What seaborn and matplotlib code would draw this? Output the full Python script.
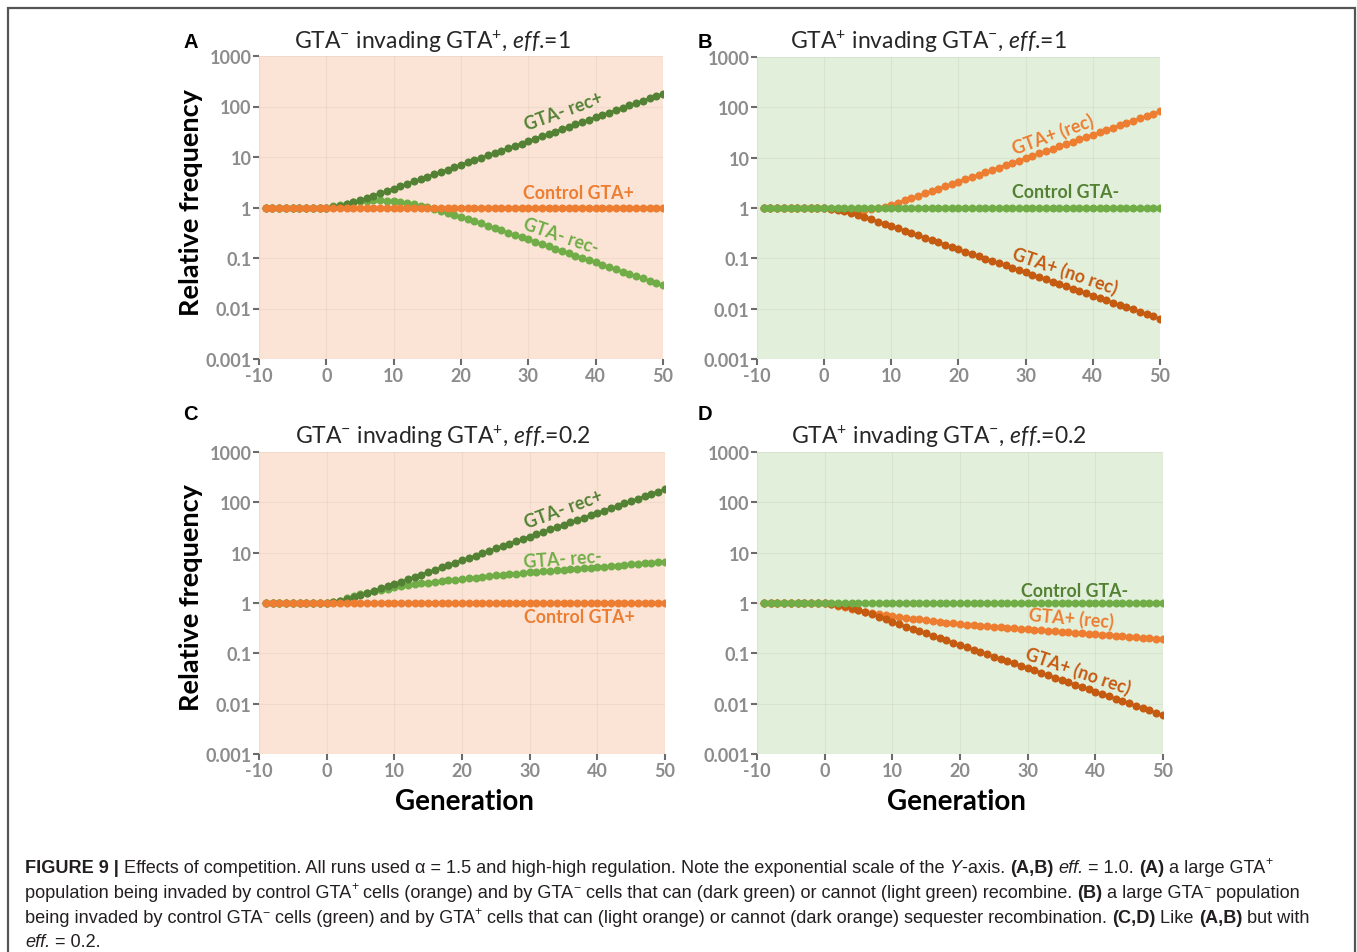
import matplotlib
matplotlib.use("Agg")
import matplotlib.pyplot as plt
import seaborn as sns
import pandas as pd
from matplotlib import font_manager as fm
from matplotlib.patches import Rectangle

# ---------------- data ----------------
generations = list(range(-9, 51))
x_ticks = [-10, 0, 10, 20, 30, 40, 50]
x_tick_labels = ["-10", "0", "10", "20", "30", "40", "50"]
y_ticks = [0.001, 0.01, 0.1, 1, 10, 100, 1000]
y_tick_labels = ["0.001", "0.01", "0.1", "1", "10", "100", "1000"]

control = [1.0, 1.0, 1.0, 1.0, 1.0, 1.0, 1.0, 1.0, 1.0, 1.0,
           1.0, 1.0, 1.0, 1.0, 1.0, 1.0, 1.0, 1.0, 1.0, 1.0,
           1.0, 1.0, 1.0, 1.0, 1.0, 1.0, 1.0, 1.0, 1.0, 1.0,
           1.0, 1.0, 1.0, 1.0, 1.0, 1.0, 1.0, 1.0, 1.0, 1.0,
           1.0, 1.0, 1.0, 1.0, 1.0, 1.0, 1.0, 1.0, 1.0, 1.0,
           1.0, 1.0, 1.0, 1.0, 1.0, 1.0, 1.0, 1.0, 1.0, 1.0]

a_rec_plus = [1.0, 1.0, 1.0, 1.0, 1.0, 1.0, 1.0, 1.0, 1.0, 1.0,
              1.02, 1.07, 1.15, 1.26, 1.38, 1.54, 1.71, 1.91, 2.13, 2.37,
              2.64, 2.94, 3.28, 3.66, 4.07, 4.54, 5.06, 5.64, 6.28, 7.00,
              7.80, 8.69, 9.68, 10.8, 12.0, 13.4, 14.9, 16.6, 18.5, 20.7,
              23.0, 25.6, 28.6, 31.8, 35.5, 39.5, 44.1, 49.1, 54.7, 61.0,
              67.9, 75.7, 84.3, 94.0, 105, 117, 130, 145, 161, 180]

a_rec_minus = [1.0, 1.0, 1.0, 1.0, 1.0, 1.0, 1.0, 1.0, 1.0, 1.0,
               1.05, 1.12, 1.20, 1.26, 1.32, 1.36, 1.38, 1.38, 1.36, 1.33,
               1.29, 1.23, 1.16, 1.08, 1.01, 0.933, 0.861, 0.794, 0.724, 0.661,
               0.596, 0.537, 0.483, 0.436, 0.392, 0.353, 0.318, 0.286, 0.258, 0.233,
               0.210, 0.189, 0.170, 0.153, 0.138, 0.124, 0.112, 0.101, 0.091, 0.0819,
               0.0738, 0.0665, 0.0598, 0.0540, 0.0486, 0.0438, 0.0394, 0.0356, 0.0320, 0.0288]

b_rec = [1.0, 1.0, 1.0, 1.0, 1.0, 1.0, 1.0, 1.0, 1.0, 1.0,
         0.97, 0.94, 0.92, 0.91, 0.91, 0.92, 0.95, 0.98, 1.04, 1.15,
         1.28, 1.42, 1.58, 1.76, 1.96, 2.18, 2.43, 2.70, 3.01, 3.35,
         3.73, 4.15, 4.62, 5.14, 5.72, 6.37, 7.09, 7.89, 8.78, 9.77,
         10.9, 12.1, 13.5, 15.0, 16.7, 18.6, 20.7, 23.0, 25.6, 28.5,
         31.7, 35.3, 39.3, 43.8, 48.7, 54.2, 60.3, 67.1, 74.7, 83.2]

b_no_rec = [1.0, 1.0, 1.0, 1.0, 1.0, 1.0, 1.0, 1.0, 1.0, 1.0,
            0.977, 0.933, 0.871, 0.813, 0.741, 0.676, 0.603, 0.537, 0.484, 0.437,
            0.393, 0.353, 0.318, 0.286, 0.257, 0.231, 0.208, 0.187, 0.168, 0.151,
            0.136, 0.122, 0.110, 0.0991, 0.0891, 0.0802, 0.0721, 0.0649, 0.0583, 0.0525,
            0.0472, 0.0425, 0.0382, 0.0344, 0.0309, 0.0278, 0.0250, 0.0225, 0.0202, 0.0182,
            0.0164, 0.0147, 0.0132, 0.0119, 0.0107, 0.00964, 0.00867, 0.00780, 0.00702, 0.00631]

c_rec_plus = [1.0, 1.0, 1.0, 1.0, 1.0, 1.0, 1.0, 1.0, 1.0, 1.0,
              1.03, 1.09, 1.18, 1.30, 1.45, 1.60, 1.77, 1.96, 2.17, 2.40,
              2.66, 2.96, 3.30, 3.68, 4.10, 4.57, 5.09, 5.68, 6.33, 7.05,
              7.86, 8.76, 9.76, 10.9, 12.1, 13.5, 15.1, 16.8, 18.7, 20.9,
              23.3, 26.0, 28.9, 32.2, 35.9, 40.0, 44.6, 49.7, 55.4, 61.7,
              68.8, 76.6, 85.4, 95.2, 106, 118, 132, 147, 164, 183]

c_rec_minus = [1.0, 1.0, 1.0, 1.0, 1.0, 1.0, 1.0, 1.0, 1.0, 1.0,
               1.05, 1.12, 1.23, 1.35, 1.48, 1.58, 1.70, 1.82, 1.93, 2.04,
               2.14, 2.24, 2.34, 2.45, 2.54, 2.63, 2.72, 2.82, 2.92, 3.02,
               3.12, 3.21, 3.31, 3.41, 3.52, 3.62, 3.73, 3.85, 3.95, 4.07,
               4.17, 4.27, 4.37, 4.47, 4.57, 4.68, 4.79, 4.90, 5.01, 5.13,
               5.26, 5.40, 5.53, 5.68, 5.82, 5.97, 6.12, 6.28, 6.44, 6.61]

d_rec = [1.0, 1.0, 1.0, 1.0, 1.0, 1.0, 1.0, 1.0, 1.0, 1.0,
         0.955, 0.891, 0.832, 0.776, 0.724, 0.676, 0.638, 0.603, 0.575, 0.550,
         0.528, 0.508, 0.490, 0.473, 0.457, 0.441, 0.425, 0.407, 0.394, 0.380,
         0.372, 0.363, 0.355, 0.347, 0.339, 0.331, 0.324, 0.316, 0.309, 0.302,
         0.295, 0.288, 0.282, 0.275, 0.269, 0.263, 0.257, 0.251, 0.245, 0.240,
         0.234, 0.229, 0.224, 0.219, 0.214, 0.209, 0.204, 0.200, 0.195, 0.191]

d_no_rec = [1.0, 1.0, 1.0, 1.0, 1.0, 1.0, 1.0, 1.0, 1.0, 1.0,
            0.97, 0.92, 0.86, 0.80, 0.73, 0.665, 0.595, 0.530, 0.475, 0.42,
            0.38, 0.34, 0.307, 0.276, 0.248, 0.223, 0.201, 0.181, 0.163, 0.147,
            0.132, 0.119, 0.107, 0.0960, 0.0865, 0.0778, 0.0700, 0.0630, 0.0567, 0.0510,
            0.0458, 0.0411, 0.0369, 0.0331, 0.0297, 0.0267, 0.0240, 0.0215, 0.0193, 0.0174,
            0.0156, 0.0140, 0.0126, 0.0113, 0.0101, 0.00910, 0.00817, 0.00733, 0.00658, 0.00590]

# ---------------- style ----------------
DARK_GREEN = "#548235"
LIGHT_GREEN = "#70AD47"
ORANGE = "#ED7D31"
DARK_ORANGE = "#C55A11"
PEACH_BG = "#FBE4D5"
GREEN_BG = "#E2EFDA"

sns.set_style("white")
avail = {f.name for f in fm.fontManager.ttflist}
MAIN = "Lato" if "Lato" in avail else "DejaVu Sans"
CAP = next((f for f in ["Liberation Sans Narrow", "DejaVu Sans Condensed", "Liberation Sans"] if f in avail), "DejaVu Sans")
plt.rcParams["font.family"] = [MAIN, "DejaVu Sans"]
plt.rcParams["mathtext.fontset"] = "custom"
plt.rcParams["mathtext.rm"] = MAIN
plt.rcParams["mathtext.it"] = MAIN + ":italic"
plt.rcParams["mathtext.bf"] = MAIN + ":bold"

W, H = 1357, 953
fig = plt.figure(figsize=(W / 100, H / 100), dpi=100)
fig.patch.set_facecolor("white")


def fx(x):
    return x / W


def fy(y):
    return 1 - y / H


panels = [
    dict(letter="A", box=(259, 57, 663, 360), bg=PEACH_BG,
         title=r"GTA$^{-}$ invading GTA$^{+}$, $\mathit{eff}$.=1", title_xy=(432, 42), letter_xy=(191, 42),
         series=[("GTA- rec-", a_rec_minus, LIGHT_GREEN), ("GTA- rec+", a_rec_plus, DARK_GREEN),
                 ("Control GTA+", control, ORANGE)],
         labels=[("GTA- rec+", 35.2, 82, 20, DARK_GREEN), ("Control GTA+", 37.5, 2.0, 0, ORANGE),
                 ("GTA- rec-", 34.9, 0.28, -19, LIGHT_GREEN)],
         ylabel=True, xlabel=None),
    dict(letter="B", box=(757, 58, 1160, 360), bg=GREEN_BG,
         title=r"GTA$^{+}$ invading GTA$^{-}$, $\mathit{eff}$.=1", title_xy=(928, 42), letter_xy=(705, 42),
         series=[("GTA+ (rec)", b_rec, ORANGE), ("GTA+ (no rec)", b_no_rec, DARK_ORANGE),
                 ("Control GTA-", control, LIGHT_GREEN)],
         labels=[("GTA+ (rec)", 34.0, 29, 20, ORANGE), ("Control GTA-", 35.9, 2.08, 0, DARK_GREEN),
                 ("GTA+ (no rec)", 35.9, 0.058, -19, DARK_ORANGE)],
         ylabel=False, xlabel=None),
    dict(letter="C", box=(259, 453, 665, 755), bg=PEACH_BG,
         title=r"GTA$^{-}$ invading GTA$^{+}$, $\mathit{eff}$.=0.2", title_xy=(443, 437), letter_xy=(190, 415),
         series=[("GTA- rec-", c_rec_minus, LIGHT_GREEN), ("GTA- rec+", c_rec_plus, DARK_GREEN),
                 ("Control GTA+", control, ORANGE)],
         labels=[("GTA- rec+", 35.0, 73, 20, DARK_GREEN), ("GTA- rec-", 34.9, 7.4, 4, LIGHT_GREEN),
                 ("Control GTA+", 37.3, 0.53, 0, ORANGE)],
         ylabel=True, xlabel=464),
    dict(letter="D", box=(757, 453, 1163, 755), bg=GREEN_BG,
         title=r"GTA$^{+}$ invading GTA$^{-}$, $\mathit{eff}$.=0.2", title_xy=(939, 437), letter_xy=(705, 415),
         series=[("GTA+ (rec)", d_rec, ORANGE), ("GTA+ (no rec)", d_no_rec, DARK_ORANGE),
                 ("Control GTA-", control, LIGHT_GREEN)],
         labels=[("Control GTA-", 37.0, 1.8, 0, DARK_GREEN), ("GTA+ (rec)", 36.4, 0.50, -5, ORANGE),
                 ("GTA+ (no rec)", 37.4, 0.046, -19, DARK_ORANGE)],
         ylabel=False, xlabel=956),
]

for p in panels:
    l, t, r, b = p["box"]
    ax = fig.add_axes([fx(l), fy(b), (r - l) / W, (b - t) / H])
    rows = []
    for name, vals, col in p["series"]:
        for g, v in zip(generations, vals):
            rows.append((name, g, v))
    df = pd.DataFrame(rows, columns=["series", "generation", "value"])
    order = [s[0] for s in p["series"]]
    pal = {s[0]: s[2] for s in p["series"]}
    sns.lineplot(data=df, x="generation", y="value", hue="series", hue_order=order,
                 palette=pal, marker="o", markersize=5.8, markeredgewidth=0,
                 linewidth=1.6, legend=False, estimator=None, ax=ax)
    ax.set_yscale("log")
    ax.set_xlim(-10, 50)
    ax.set_ylim(1e-3, 1e3)
    ax.set_xticks(x_ticks)
    ax.set_xticklabels(x_tick_labels)
    ax.set_yticks(y_ticks)
    ax.set_yticklabels(y_tick_labels)
    ax.minorticks_off()
    ax.set_facecolor(p["bg"])
    for s in ax.spines.values():
        s.set_visible(False)
    ax.grid(True, which="major", color="#000000", alpha=0.045, linewidth=0.9)
    ax.set_axisbelow(True)
    ax.tick_params(axis="both", length=4, width=1.5, color="#6b6b6b", labelcolor="#8c8c8c",
                   labelsize=13, pad=1.5, left=True, bottom=True)
    for lab in ax.get_xticklabels() + ax.get_yticklabels():
        lab.set_fontweight("bold")
    ax.set_xlabel("")
    ax.set_ylabel("")
    for txt, gx, gy, rot, col in p["labels"]:
        ax.text(gx, gy, txt, color=col, fontsize=12.8, fontweight="bold", rotation=rot,
                ha="center", va="center", rotation_mode="anchor")
    fig.text(fx(p["title_xy"][0]), fy(p["title_xy"][1]), p["title"], ha="center", va="center",
             fontsize=16.5, color="#262626")
    fig.text(fx(p["letter_xy"][0]), fy(p["letter_xy"][1]), p["letter"], ha="center", va="center",
             fontsize=14.5, fontweight="bold", color="black", family=["Liberation Sans", "DejaVu Sans"])
    if p["ylabel"]:
        cy = (t + b) / 2 - 6
        fig.text(fx(191), fy(cy), "Relative frequency", rotation=90, ha="center", va="center",
                 fontsize=19.5, fontweight="bold", color="black")
    if p["xlabel"]:
        fig.text(fx(p["xlabel"]), fy(802), "Generation", ha="center", va="center",
                 fontsize=20, fontweight="bold", color="black")

# ---------------- caption (rich text) ----------------
renderer = fig.canvas.get_renderer()
CAP_COLOR = "#231f20"


def props(style, size):
    d = dict(family=[CAP, "DejaVu Sans"], color=CAP_COLOR, fontsize=size)
    if style == "b":
        d["fontweight"] = "bold"
    if style == "i":
        d["fontstyle"] = "italic"
    if style == "sup":
        d["fontsize"] = size * 0.68
    return d


def seg_width(txt, pr):
    t1 = fig.text(0, 0, "|" + txt + "|", **pr)
    w1 = t1.get_window_extent(renderer).width
    t1.remove()
    t2 = fig.text(0, 0, "||", **pr)
    w2 = t2.get_window_extent(renderer).width
    t2.remove()
    return w1 - w2


caption_lines = [
    [("FIGURE 9 | ", "b"), ("Effects of competition. All runs used \u03b1 = 1.5 and high-high regulation. Note the exponential scale of the ", "r"),
     ("Y", "i"), ("-axis. ", "r"), ("(A,B)", "b"), (" ", "r"), ("eff.", "i"), (" = 1.0. ", "r"), ("(A)", "b"),
     (" a large GTA", "r"), ("+", "sup")],
    [("population being invaded by control GTA", "r"), ("+", "sup"), (" cells (orange) and by GTA", "r"), ("\u2212", "sup"),
     (" cells that can (dark green) or cannot (light green) recombine. ", "r"), ("(B)", "b"), (" a large GTA", "r"),
     ("\u2212", "sup"), (" population", "r")],
    [("being invaded by control GTA", "r"), ("\u2212", "sup"), (" cells (green) and by GTA", "r"), ("+", "sup"),
     (" cells that can (light orange) or cannot (dark orange) sequester recombination. ", "r"), ("(C,D)", "b"),
     (" Like ", "r"), ("(A,B)", "b"), (" but with", "r")],
    [("eff.", "i"), (" = 0.2.", "r")],
]

base = 10.0
w_line1 = sum(seg_width(tx, props(st, base)) for tx, st in caption_lines[0])
cap_size = base * (1253.0 / w_line1)
baselines = [873, 898, 923, 947]
for line, yb in zip(caption_lines, baselines):
    x = 25.0
    for tx, st in line:
        pr = props(st, cap_size)
        yy = yb - (cap_size * 0.45 * 100 / 72 if st == "sup" else 0)
        fig.text(fx(x), fy(yy), tx, ha="left", va="baseline", **pr)
        x += seg_width(tx, pr)

fig.add_artist(Rectangle((fx(8), -0.05), (1355 - 8) / W, fy(9) + 0.05, transform=fig.transFigure,
                         fill=False, edgecolor="#555555", linewidth=1.6))

fig.savefig("out.png", dpi=100)
